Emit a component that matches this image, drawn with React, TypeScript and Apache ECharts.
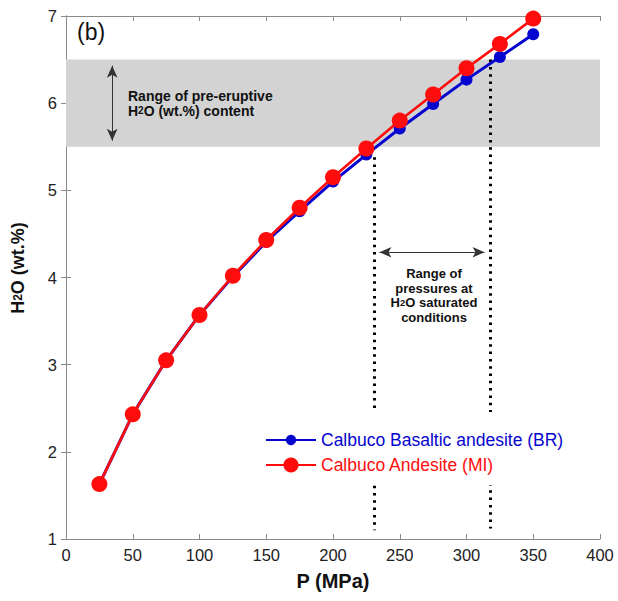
import React, { useEffect, useRef } from "react";
import * as echarts from "echarts";

const pressure = [25, 50, 75, 100, 125, 150, 175, 200, 225, 250, 275, 300, 325, 350];
const basalticAndesiteBR = [1.63, 2.43, 3.05, 3.57, 4.01, 4.41, 4.76, 5.1, 5.41, 5.71, 5.99, 6.27, 6.53, 6.79];
const andesiteMI = [1.63, 2.43, 3.05, 3.57, 4.02, 4.43, 4.8, 5.15, 5.48, 5.8, 6.1, 6.4, 6.68, 6.97];

const seriesNames = ["Calbuco Basaltic andesite (BR)", "Calbuco Andesite (MI)"];
const xTicks = { min: 0, max: 400, interval: 50 };
const yTicks = { min: 1, max: 7, interval: 1 };
const preEruptiveRange = [5.5, 6.5];
const pressureRange = [231, 318];

const FONT = "'Liberation Sans', Arial, Helvetica, sans-serif";
const BLUE = "#0505cf";
const RED = "#ff0d0d";
const AXIS = "#8a8a8a";

export default function App() {
  const ref = useRef<HTMLDivElement>(null);
  useEffect(() => {
    if (!ref.current) return;
    const chart = echarts.init(ref.current, null, { renderer: "svg" });
    const axisCommon = {
      type: "value" as const,
      axisLine: { show: true, lineStyle: { color: AXIS, width: 1 } },
      axisTick: { show: true, inside: true, length: 5, lineStyle: { color: AXIS, width: 1 } },
      splitLine: { show: false },
    };
    const dotted = { color: "#000", width: 3, type: [2.5, 4.8] };
    const arrowLine = { color: "#333", width: 1, type: "solid" };
    const option: any = {
      animation: false,
      textStyle: { fontFamily: FONT },
      grid: { left: 66, right: 18, top: 16, bottom: 62 },
      xAxis: [
        {
          ...axisCommon,
          ...xTicks,
          position: "bottom",
          axisLabel: { fontSize: 16.5, color: "#222", margin: 7, fontFamily: FONT },
          name: "P (MPa)",
          nameLocation: "middle",
          nameGap: 32,
          nameTextStyle: { fontSize: 20, fontWeight: "bold", color: "#111", fontFamily: FONT },
        },
        {
          ...axisCommon,
          ...xTicks,
          position: "top",
          axisLabel: { show: false },
        },
      ],
      yAxis: [
        {
          ...axisCommon,
          ...yTicks,
          position: "left",
          axisLabel: { fontSize: 16.5, color: "#222", margin: 9, fontFamily: FONT },
        },
        {
          ...axisCommon,
          ...yTicks,
          position: "right",
          axisLabel: { show: false },
        },
      ],
      legend: [
        {
          data: [seriesNames[0]],
          left: 255,
          top: 412,
          z: 10,
          padding: [19, 10, 8, 10],
          itemWidth: 50,
          itemHeight: 13,
          backgroundColor: "#fff",
          selectedMode: false,
          textStyle: { fontSize: 17.5, color: BLUE, fontFamily: FONT },
        },
        {
          data: [seriesNames[1]],
          left: 255,
          top: 452,
          z: 10,
          padding: [4, 10, 11, 10],
          itemWidth: 50,
          itemHeight: 19,
          backgroundColor: "#fff",
          selectedMode: false,
          textStyle: { fontSize: 17.5, color: RED, fontFamily: FONT },
        },
      ],
      series: [
        {
          name: "band",
          type: "line",
          data: [],
          z: 1,
          silent: true,
          markArea: {
            silent: true,
            z: 1,
            itemStyle: { color: "#d3d3d3" },
            label: { show: false },
            data: [[{ xAxis: xTicks.min, yAxis: preEruptiveRange[0] }, { xAxis: xTicks.max, yAxis: preEruptiveRange[1] }]],
          },
        },
        {
          name: "guides",
          type: "line",
          data: [],
          z: 2,
          silent: true,
          markLine: {
            silent: true,
            z: 2,
            animation: false,
            label: { show: false },
            symbol: "none",
            data: [
              [
                { coord: [pressureRange[0], 5.38], symbol: "none", lineStyle: dotted },
                { coord: [pressureRange[0], 1.1], symbol: "none", lineStyle: dotted },
              ],
              [
                { coord: [pressureRange[1], 6.5], symbol: "none", lineStyle: dotted },
                { coord: [pressureRange[1], 1.12], symbol: "none", lineStyle: dotted },
              ],
              [
                { coord: [34.6, 5.57], symbol: "arrow", symbolSize: [8, 12], lineStyle: arrowLine },
                { coord: [34.6, 6.43], symbol: "arrow", symbolSize: [8, 12], lineStyle: arrowLine },
              ],
              [
                { coord: [234.8, 4.29], symbol: "arrow", symbolSize: [8, 12], lineStyle: arrowLine },
                { coord: [313.5, 4.29], symbol: "arrow", symbolSize: [8, 12], lineStyle: arrowLine },
              ],
            ],
          },
        },
        {
          name: seriesNames[0],
          type: "line",
          z: 3,
          data: pressure.map((p, i) => [p, basalticAndesiteBR[i]]),
          symbol: "circle",
          symbolSize: 12,
          showAllSymbol: true,
          lineStyle: { color: BLUE, width: 3 },
          itemStyle: { color: BLUE },
        },
        {
          name: seriesNames[1],
          type: "line",
          z: 4,
          data: pressure.map((p, i) => [p, andesiteMI[i]]),
          symbol: "circle",
          symbolSize: 16,
          showAllSymbol: true,
          lineStyle: { color: RED, width: 2.6 },
          itemStyle: { color: RED },
        },
      ],
      graphic: [
        {
          type: "text",
          z: 20,
          x: 18,
          y: 268,
          rotation: Math.PI / 2,
          style: {
            text: "{a|H}{s|2}{a|O (wt.%)}",
            align: "center",
            verticalAlign: "middle",
            rich: {
              a: { fontSize: 18, fontWeight: "bold", fill: "#111", fontFamily: FONT },
              s: { fontSize: 12, fontWeight: "bold", fill: "#111", fontFamily: FONT },
            },
          },
        },
        {
          type: "text",
          z: 20,
          x: 77,
          y: 32,
          style: { text: "(b)", fontSize: 23, fontFamily: FONT, fill: "#111", verticalAlign: "middle" },
        },
        {
          type: "text",
          z: 20,
          x: 128,
          y: 103,
          style: {
            text: "{a|Range of pre-eruptive}\n{a|H}{s|2}{a|O (wt.%) content}",
            verticalAlign: "middle",
            rich: {
              a: { fontSize: 14, fontWeight: "bold", fontFamily: FONT, fill: "#111", lineHeight: 15 },
              s: { fontSize: 10, fontWeight: "bold", fontFamily: FONT, fill: "#111", lineHeight: 15 },
            },
          },
        },
        {
          type: "text",
          z: 20,
          x: 434,
          y: 295.5,
          style: {
            text: "{a|Range of}\n{a|pressures at}\n{a|H}{s|2}{a|O saturated}\n{a|conditions}",
            align: "center",
            verticalAlign: "middle",
            rich: {
              a: { fontSize: 13, fontWeight: "bold", fontFamily: FONT, fill: "#111", lineHeight: 14.5, align: "center" },
              s: { fontSize: 9.5, fontWeight: "bold", fontFamily: FONT, fill: "#111", lineHeight: 14.5 },
            },
          },
        },
      ],
    };
    chart.setOption(option);
    return () => chart.dispose();
  }, []);
  return (
    <div
      ref={ref}
      style={{ position: "fixed", left: 0, top: 0, width: 618, height: 601, background: "#fff" }}
    />
  );
}
